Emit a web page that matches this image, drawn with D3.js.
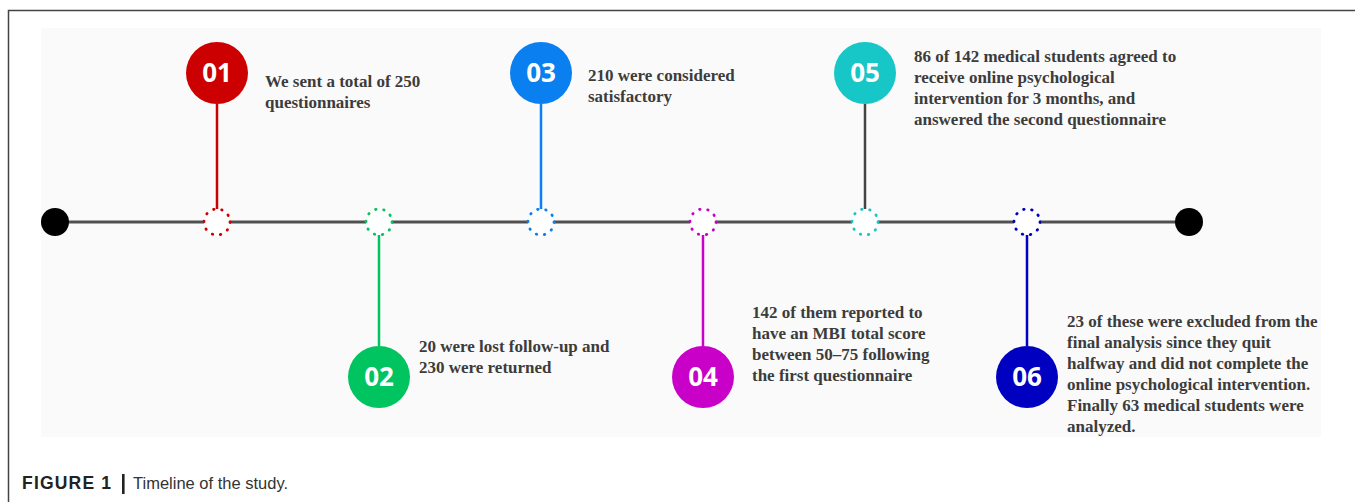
<!DOCTYPE html>
<html>
<head>
<meta charset="utf-8">
<script src="https://cdn.jsdelivr.net/npm/d3@7"></script>
<style>
  body { margin: 0; background: #fff; }
  svg { display: block; }
  .stepText { font-family: "Liberation Serif", "Times New Roman", serif; font-weight: bold; font-size: 17px; fill: #3c3c3c; }
  .stepNum { font-family: "Open Sans", sans-serif; font-weight: bold; font-size: 26px; fill: #fff; }
  .caption { font-family: "Liberation Sans", Arial, sans-serif; font-size: 16.5px; fill: #222; }
</style>
</head>
<body>
<div id="chart"></div>
<script>
// timeline steps
const steps = ["01", "02", "03", "04", "05", "06"];
const sides = ["top", "bottom", "top", "bottom", "top", "bottom"];
const stepTexts = [
  ["We sent a total of 250", "questionnaires"],
  ["20 were lost follow-up and", "230 were returned"],
  ["210 were considered", "satisfactory"],
  ["142 of them reported to", "have an MBI total score", "between 50\u201375 following", "the first questionnaire"],
  ["86 of 142 medical students agreed to", "receive online psychological", "intervention for 3 months, and", "answered the second questionnaire"],
  ["23 of these were excluded from the", "final analysis since they quit", "halfway and did not complete the", "online psychological intervention.", "Finally 63 medical students were", "analyzed."]
];
const captionBold = "FIGURE 1";
const captionText = "Timeline of the study.";

const width = 1355, height = 502;
const lineY = 222;

const svg = d3.select("#chart").append("svg")
  .attr("width", width)
  .attr("height", height);

// frame
svg.append("path")
  .attr("d", "M8.5," + height + " V10.5 H" + width)
  .attr("fill", "none")
  .attr("stroke", "#444")
  .attr("stroke-width", 1.5);

// light panel
svg.append("rect")
  .attr("x", 41).attr("y", 28)
  .attr("width", 1280).attr("height", 409)
  .attr("fill", "#fafafa");

let x = d3.scalePoint()
  .domain(["start"].concat(steps).concat(["end"]))
  .range([55, 1189]);

let color = d3.scaleOrdinal()
  .domain(steps)
  .range(["#cc0000", "#00c460", "#0a7ff0", "#c800c8", "#17c6c6", "#0000c0"]);

// connector colour (05 uses a grey stem)
let stemColor = d => d === "05" ? "#444" : color(d);

// main line
svg.append("line")
  .attr("x1", x("start")).attr("x2", x("end"))
  .attr("y1", lineY).attr("y2", lineY)
  .attr("stroke", "#505050")
  .attr("stroke-width", 3);

// end dots
svg.selectAll(".endDot")
  .data(["start", "end"])
  .enter().append("circle")
  .attr("cx", d => x(d))
  .attr("cy", lineY)
  .attr("r", 14)
  .attr("fill", "#000");

const bigR = 31;
const topY = 73, botY = 377;

let g = svg.selectAll(".step")
  .data(steps)
  .enter().append("g");

// stems
g.append("line")
  .attr("x1", d => x(d)).attr("x2", d => x(d))
  .attr("y1", (d, i) => sides[i] === "top" ? topY + bigR : lineY + 13)
  .attr("y2", (d, i) => sides[i] === "top" ? lineY - 13 : botY - bigR)
  .attr("stroke", stemColor)
  .attr("stroke-width", 2.5);

// dotted circles on line
g.append("circle")
  .attr("cx", d => x(d))
  .attr("cy", lineY)
  .attr("r", 13)
  .attr("fill", "#fff")
  .attr("stroke", d => color(d))
  .attr("stroke-width", 2.8)
  .attr("stroke-linecap", "round")
  .attr("stroke-dasharray", "0.5,7.7");

// numbered circles
g.append("circle")
  .attr("cx", d => x(d))
  .attr("cy", (d, i) => sides[i] === "top" ? topY : botY)
  .attr("r", bigR)
  .attr("fill", d => color(d));

g.append("text")
  .attr("class", "stepNum")
  .attr("x", d => x(d))
  .attr("y", (d, i) => (sides[i] === "top" ? topY : botY) + 9)
  .attr("text-anchor", "middle")
  .text(d => d);

// descriptions
const textTop = [82, 347, 76, 313, 57, 322];
const textDx = [48, 40, 47, 49, 49, 40];
const lineH = 21;
g.append("text")
  .attr("class", "stepText")
  .each(function(d, i) {
    let t = d3.select(this);
    stepTexts[i].forEach((s, j) => {
      t.append("tspan")
        .attr("x", x(d) + textDx[i])
        .attr("y", textTop[i] + 5 + j * lineH)
        .text(s);
    });
  });

// caption
let cap = svg.append("g").attr("class", "caption");
cap.append("text")
  .attr("x", 22).attr("y", 489)
  .attr("font-weight", "bold")
  .attr("font-size", "17.5px")
  .attr("letter-spacing", "1.2px")
  .text(captionBold);
cap.append("rect")
  .attr("x", 122).attr("y", 474)
  .attr("width", 2.6).attr("height", 20)
  .attr("fill", "#222");
cap.append("text")
  .attr("x", 133).attr("y", 489)
  .attr("fill", "#333")
  .text(captionText);
</script>
</body>
</html>
